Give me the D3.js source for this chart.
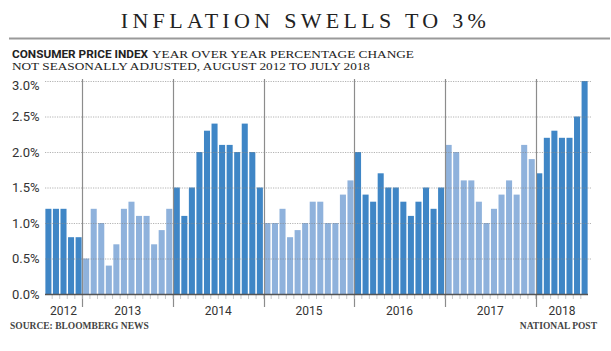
<!DOCTYPE html>
<html><head><meta charset="utf-8">
<script src="https://cdn.jsdelivr.net/npm/d3@7"></script>
<style>
html,body{margin:0;padding:0;background:#fff;}
svg{display:block;}
</style>
</head><body>
<svg id="c" width="611" height="351"></svg>
<script>
// ---- data ----
const years = ["2012","2013","2014","2015","2016","2017","2018"];
const monthsPerYear = [5,12,12,12,12,12,7];
const v2012 = [1.2,1.2,1.2,0.8,0.8];
const v2013 = [0.5,1.2,1.0,0.4,0.7,1.2,1.3,1.1,1.1,0.7,0.9,1.2];
const v2014 = [1.5,1.1,1.5,2.0,2.3,2.4,2.1,2.1,2.0,2.4,2.0,1.5];
const v2015 = [1.0,1.0,1.2,0.8,0.9,1.0,1.3,1.3,1.0,1.0,1.4,1.6];
const v2016 = [2.0,1.4,1.3,1.7,1.5,1.5,1.3,1.1,1.3,1.5,1.2,1.5];
const v2017 = [2.1,2.0,1.6,1.6,1.3,1.0,1.2,1.4,1.6,1.4,2.1,1.9];
const v2018 = [1.7,2.2,2.3,2.2,2.2,2.5,3.0];
const yTicks = [0,0.5,1.0,1.5,2.0,2.5,3.0];

const series = [v2012,v2013,v2014,v2015,v2016,v2017,v2018];
const data = [];
series.forEach((arr,yi)=>arr.forEach((v,mi)=>data.push({i:data.length, year:years[yi], yi, v})));

const svg = d3.select("#c");
const darkBlue = "#3f86c6", lightBlue = "#8fb2dc";

// title
svg.append("text").attr("x",305.5).attr("y",27.5).attr("text-anchor","middle")
  .attr("font-family","'Liberation Serif','DejaVu Serif',serif").attr("font-size",22)
  .attr("letter-spacing",4.3).attr("fill","#222").text("INFLATION SWELLS TO 3%");
svg.append("line").attr("x1",9).attr("x2",610).attr("y1",38.5).attr("y2",38.5)
  .attr("stroke","#9a9a9a").attr("stroke-width",2.2);

// subtitle
svg.append("text").attr("x",12).attr("y",57.5).attr("fill","#222")
  .attr("font-family","Roboto,'Liberation Sans',sans-serif").attr("font-weight","bold")
  .attr("font-size",11.2).attr("textLength",136).attr("lengthAdjust","spacingAndGlyphs")
  .text("CONSUMER PRICE INDEX");
svg.append("text").attr("x",152).attr("y",57.5).attr("fill","#222")
  .attr("font-family","'Liberation Serif',serif").attr("font-size",11.2)
  .attr("textLength",262).attr("lengthAdjust","spacingAndGlyphs")
  .text("YEAR OVER YEAR PERCENTAGE CHANGE");
svg.append("text").attr("x",12).attr("y",70).attr("fill","#222")
  .attr("font-family","'Liberation Serif',serif").attr("font-size",11.2)
  .attr("textLength",358).attr("lengthAdjust","spacingAndGlyphs")
  .text("NOT SEASONALLY ADJUSTED, AUGUST 2012 TO JULY 2018");

// scales
const x = d3.scaleBand().domain(d3.range(data.length)).range([45,588]).paddingInner(0.2).paddingOuter(0.05);
const y = d3.scaleLinear().domain([0,3]).range([294,81]);

// bars
svg.append("g").selectAll("rect").data(data).join("rect")
  .attr("x",d=>x(d.i)).attr("width",x.bandwidth())
  .attr("y",d=>y(d.v)).attr("height",d=>y(0)-y(d.v))
  .attr("fill",d=>d.yi%2===0?darkBlue:lightBlue);

// gridlines
svg.append("g").selectAll("line").data(yTicks.filter(t=>t>0)).join("line")
  .attr("x1",45).attr("x2",592).attr("y1",d=>y(d)+0.5).attr("y2",d=>y(d)+0.5)
  .attr("stroke","#8a8a8a").attr("stroke-width",0.8).attr("stroke-dasharray","1.2,1.2").attr("opacity",0.8);

// y axis labels
svg.append("g").selectAll("text").data(yTicks).join("text")
  .attr("x",12).attr("y",d=>y(d)+(d===3?4:0)).attr("dy","0.36em")
  .attr("font-family","Roboto,sans-serif").attr("font-size",13).attr("fill","#333")
  .text(d=>d.toFixed(1)+"%");

// year boundaries
const bounds = [];
let acc=0;
monthsPerYear.forEach((n,k)=>{ bounds.push({k,start:acc,end:acc+n}); acc+=n; });
const step = x.step();
const bx = i => x(0) - step*x.paddingInner()/2 + i*step;
svg.append("g").selectAll("line").data(bounds.slice(1)).join("line")
  .attr("x1",d=>Math.round(bx(d.start))+0.5).attr("x2",d=>Math.round(bx(d.start))+0.5)
  .attr("y1",79).attr("y2",307).attr("stroke","#8c8c8c").attr("stroke-width",1.2);

// month ticks
svg.append("g").selectAll("line").data(d3.range(1,data.length)).join("line")
  .attr("x1",d=>bx(d)).attr("x2",d=>bx(d)).attr("y1",294).attr("y2",299)
  .attr("stroke","#bbb").attr("stroke-width",0.8);

// baseline
svg.append("line").attr("x1",45).attr("x2",588).attr("y1",294.5).attr("y2",294.5)
  .attr("stroke","#555").attr("stroke-width",1.5);

// year labels
svg.append("g").selectAll("text").data(bounds).join("text")
  .attr("x",d=>(bx(d.start)+bx(d.end))/2).attr("y",315).attr("text-anchor","middle")
  .attr("font-family","Roboto,sans-serif").attr("font-size",12).attr("fill","#333")
  .text(d=>years[d.k]);

// source / credit
svg.append("text").attr("x",10).attr("y",328.5)
  .attr("font-family","'Liberation Serif',serif").attr("font-weight","bold").attr("font-size",9.5)
  .attr("fill","#444").text("SOURCE: BLOOMBERG NEWS");
svg.append("text").attr("x",597).attr("y",328.5).attr("text-anchor","end")
  .attr("font-family","'Liberation Serif',serif").attr("font-weight","bold").attr("font-size",9.5)
  .attr("fill","#444").text("NATIONAL POST");
</script>
</body></html>
